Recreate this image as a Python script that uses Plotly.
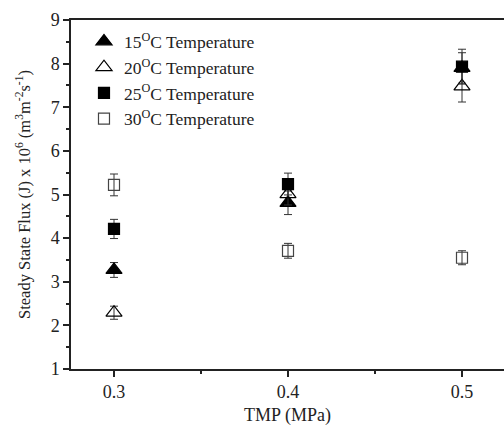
import plotly.graph_objects as go

tmp = [0.3, 0.4, 0.5]
labels = ["15<sup>O</sup>C Temperature", "20<sup>O</sup>C Temperature",
          "25<sup>O</sup>C Temperature", "30<sup>O</sup>C Temperature"]
flux_15 = [3.27, 4.81, 7.90]
err_15 = [0.17, 0.27, 0.35]
flux_20 = [2.29, 5.01, 7.48]
err_20 = [0.15, 0.25, 0.36]
flux_25 = [4.21, 5.24, 7.93]
err_25 = [0.22, 0.25, 0.40]
flux_30 = [5.22, 3.71, 3.55]
err_30 = [0.25, 0.17, 0.16]

series = [
    (labels[0], flux_15, err_15, "triangle-up", "black", "black", 14),
    (labels[1], flux_20, err_20, "triangle-up-open", "black", "black", 14),
    (labels[2], flux_25, err_25, "square", "black", "black", 11),
    (labels[3], flux_30, err_30, "square-open", "#444", "#444", 11),
]

fig = go.Figure()
for i, (name, y, e, sym, col, lc, sz) in enumerate(series):
    fig.add_trace(go.Scatter(
        x=tmp, y=y, mode="markers", name=name, legendgroup=f"g{i}",
        marker=dict(symbol=sym, size=sz, color=col, line=dict(color=lc, width=1.2)),
        error_y=dict(type="data", array=e, visible=True, color="#333", thickness=1, width=4),
    ))

font = "Liberation Serif, Times New Roman, serif"
fig.update_layout(
    width=504, height=426,
    margin=dict(l=71, r=0, t=19.5, b=56.5),
    paper_bgcolor="white", plot_bgcolor="white",
    font=dict(family=font, size=18, color="#222"),
    showlegend=True,
    legend=dict(x=0.03, y=0.99, xanchor="left", yanchor="top",
                bgcolor="rgba(0,0,0,0)", font=dict(family=font, size=17.5, color="#222"),
                itemwidth=30, tracegroupgap=0),
    xaxis=dict(range=[0.27529, 0.52414], tickvals=[0.3, 0.4, 0.5], ticktext=["0.3", "0.4", "0.5"],
               showgrid=False, zeroline=False, showline=True, linecolor="#222", linewidth=1.5,
               mirror=True, ticks="outside", ticklen=6, tickwidth=1.5, tickcolor="#222",
               minor=dict(tickvals=[0.35, 0.45], ticks="outside", ticklen=3, tickwidth=1.5, tickcolor="#222"),
               title=dict(text="TMP (MPa)", font=dict(size=18), standoff=11),
               tickfont=dict(size=18), automargin=False),
    yaxis=dict(range=[1, 9], tickvals=list(range(1, 10)),
               showgrid=False, zeroline=False, showline=True, linecolor="#222", linewidth=1.5,
               ticks="outside", ticklen=6, tickwidth=1.5, tickcolor="#222",
               minor=dict(tickvals=[1.5 + i for i in range(8)], ticks="outside", ticklen=3, tickwidth=1.5, tickcolor="#222"),
               title=dict(text="Steady State Flux (J) x 10<sup>6</sup> (m<sup>3</sup>m<sup>-2</sup>s<sup>-1</sup>)",
                          font=dict(size=16.5), standoff=16),
               tickfont=dict(size=18), automargin=False),
)
fig.write_html("out.html")
